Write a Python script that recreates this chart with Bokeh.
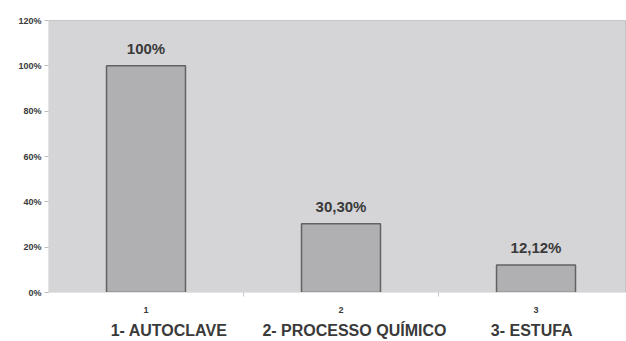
from bokeh.plotting import figure
from bokeh.models import FixedTicker, ColumnDataSource, Range1d
from bokeh.core.properties import value
from bokeh.embed import file_html
from bokeh.resources import INLINE

# data
categories = [1, 2, 3]
percent = [100.0, 30.30, 12.12]
value_labels = ["100%", "30,30%", "12,12%"]
tick_labels = {1: "1", 2: "2", 3: "3"}
names = ["1- AUTOCLAVE", "2- PROCESSO QUÍMICO", "3- ESTUFA"]
y_ticks = [0, 20, 40, 60, 80, 100, 120]

FONT = "Liberation Sans"
TXT = "#3a3a3a"

p = figure(width=626, height=341, output_backend="svg", toolbar_location=None,
           x_range=Range1d(0.5, 3.464), y_range=Range1d(0, 120),
           min_border_left=48, min_border_right=0, min_border_top=20, min_border_bottom=49)

p.background_fill_color = "#d5d5d7"
p.border_fill_color = "white"
p.outline_line_color = "#c6c6c8"
p.xgrid.visible = False
p.ygrid.visible = False

src = ColumnDataSource(dict(x=categories, top=percent, lab=value_labels))
p.vbar(x="x", top="top", width=0.405, source=src, fill_color="#b0b0b3",
       line_color="#626262", line_width=1.5)
p.text(x="x", y="top", text="lab", source=src, text_align="center",
       text_baseline="bottom", y_offset=-9, text_font=value(FONT),
       text_font_style="bold", text_font_size="15px", text_color=TXT)

# y axis
yax = p.yaxis[0]
yax.ticker = FixedTicker(ticks=y_ticks, minor_ticks=[])
yax.major_label_overrides = {t: f"{t}%" for t in y_ticks}
yax.major_label_text_font = FONT
yax.major_label_text_font_style = "bold"
yax.major_label_text_font_size = "9px"
yax.major_label_text_color = TXT
yax.axis_line_color = "#e4e4e4"
yax.major_tick_line_color = "#bdbdbd"
yax.major_tick_out = 4
yax.major_tick_in = 0
yax.major_label_standoff = 3

# x axis
xax = p.xaxis[0]
xax.ticker = FixedTicker(ticks=categories, minor_ticks=[1.5, 2.5])
xax.major_label_overrides = tick_labels
xax.major_label_text_font = FONT
xax.major_label_text_font_style = "bold"
xax.major_label_text_font_size = "9px"
xax.major_label_text_color = TXT
xax.axis_line_color = "#e4e4e4"
xax.major_tick_line_color = None
xax.major_tick_out = 0
xax.major_tick_in = 0
xax.minor_tick_line_color = "#c4c4c4"
xax.minor_tick_out = 4
xax.minor_tick_in = 0
xax.major_label_standoff = 10
nb = "\u00a0"
xax.axis_label = nb * 2 + names[0] + nb * 8 + names[1] + nb * 10 + names[2]
xax.axis_label_text_font = FONT
xax.axis_label_text_font_style = "bold"
xax.axis_label_text_font_size = "16px"
xax.axis_label_text_color = TXT
xax.axis_label_standoff = 6

open("out.html", "w").write(file_html(p, INLINE))
